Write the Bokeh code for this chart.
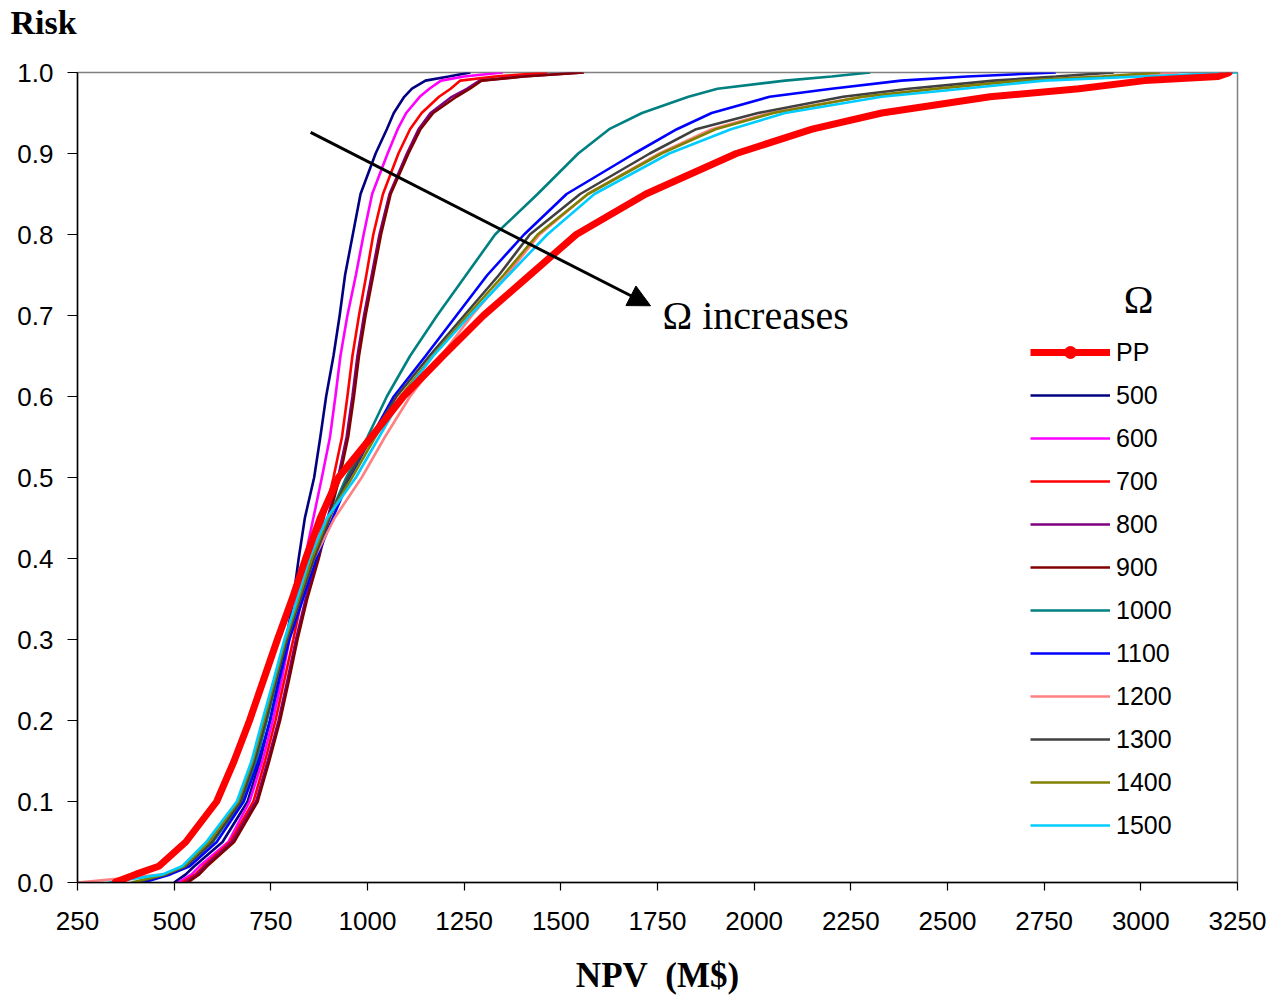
from bokeh.plotting import figure
from bokeh.models import (Legend, LegendItem, Label, Arrow, NormalHead, Range1d,
                          FixedTicker, PrintfTickFormatter, Title)
from bokeh.embed import file_html
from bokeh.resources import INLINE

# Cumulative risk levels (y) and the NPV (M$) read at each level for every series
risk = [0, 0.01, 0.02, 0.05, 0.1, 0.15, 0.2, 0.25, 0.3, 0.35, 0.4, 0.45, 0.5, 0.55,
        0.6, 0.65, 0.7, 0.75, 0.8, 0.85, 0.9, 0.93, 0.95, 0.97, 0.98, 0.99, 0.995, 1.0]

npv_pp = [345, 400, 460, 530, 610, 655, 695, 731, 767, 805, 840, 878, 925, 1010,
          1093, 1195, 1300, 1420, 1540, 1720, 1954, 2150, 2330, 2610, 2840, 3010, 3200, 3230]
npv_500 = [500, 530, 552, 625, 690, 722, 748, 770, 790, 808, 822, 838, 862, 878,
           893, 912, 928, 942, 962, 982, 1021, 1050, 1068, 1095, 1115, 1150, 1210, 1266]
npv_600 = [510, 545, 565, 640, 695, 728, 755, 778, 798, 815, 838, 860, 882, 903,
           917, 930, 948, 970, 990, 1012, 1052, 1078, 1100, 1135, 1160, 1190, 1250, 1350]
npv_700 = [520, 555, 575, 645, 705, 735, 762, 785, 808, 830, 860, 887, 912, 934,
           948, 961, 978, 997, 1015, 1040, 1080, 1110, 1140, 1185, 1215, 1240, 1330, 1465]
npv_800 = [530, 560, 580, 650, 712, 742, 770, 793, 815, 840, 870, 897, 924, 946,
           961, 974, 991, 1011, 1031, 1057, 1102, 1132, 1163, 1218, 1258, 1290, 1400, 1555]
npv_900 = [535, 565, 585, 655, 716, 746, 774, 797, 819, 844, 874, 900, 928, 950,
           965, 978, 995, 1015, 1035, 1060, 1106, 1137, 1170, 1230, 1265, 1295, 1405, 1560]
npv_1000 = [400, 480, 530, 600, 675, 712, 740, 765, 792, 825, 860, 900, 945, 1000,
            1050, 1110, 1180, 1255, 1330, 1440, 1545, 1625, 1710, 1830, 1905, 2080, 2200, 2300]
npv_1100 = [420, 490, 540, 610, 680, 718, 748, 772, 798, 833, 868, 910, 955, 1010,
            1068, 1150, 1230, 1310, 1405, 1515, 1690, 1800, 1890, 2040, 2200, 2380, 2550, 2780]
npv_1200 = [250, 475, 525, 590, 668, 705, 733, 762, 790, 825, 862, 915, 985, 1045,
            1110, 1190, 1270, 1360, 1445, 1570, 1755, 1890, 2040, 2280, 2470, 2680, 2900, 3100]
npv_1300 = [400, 480, 530, 598, 672, 708, 737, 764, 792, 826, 862, 902, 950, 1010,
            1075, 1160, 1250, 1340, 1420, 1550, 1730, 1850, 2010, 2230, 2400, 2620, 2780, 2930]
npv_1400 = [390, 475, 525, 590, 666, 703, 732, 760, 788, 822, 856, 898, 960, 1020,
            1085, 1168, 1258, 1352, 1440, 1570, 1760, 1900, 2050, 2280, 2470, 2690, 2900, 3050]
npv_1500 = [330, 470, 520, 583, 662, 700, 728, 757, 785, 818, 850, 895, 970, 1030,
            1090, 1170, 1265, 1365, 1465, 1587, 1780, 1940, 2080, 2330, 2540, 2750, 3000, 3250]

series_names = ["500", "600", "700", "800", "900", "1000", "1100", "1200", "1300", "1400", "1500"]
series_values = [npv_500, npv_600, npv_700, npv_800, npv_900, npv_1000, npv_1100,
                 npv_1200, npv_1300, npv_1400, npv_1500]
series_colors = ["#000080", "#FF00FF", "#FF0000", "#800080", "#800000", "#008080",
                 "#0000FF", "#FF8080", "#404040", "#808000", "#00CCFF"]

x_ticks = [250, 500, 750, 1000, 1250, 1500, 1750, 2000, 2250, 2500, 2750, 3000, 3250]
y_ticks = [0.0, 0.1, 0.2, 0.3, 0.4, 0.5, 0.6, 0.7, 0.8, 0.9, 1.0]

p = figure(frame_width=1160, frame_height=810, output_backend="svg", toolbar_location=None,
           x_range=Range1d(250, 3250), y_range=Range1d(0, 1.0), title=None,
           min_border_left=77, min_border_right=31, min_border_top=72, min_border_bottom=100)
p.background_fill_color = "white"
p.border_fill_color = "white"
p.outline_line_color = "#808080"
p.outline_line_width = 1.5
p.xgrid.visible = False
p.ygrid.visible = False

# spacer title next to the frame, then the "Risk" heading above it
p.add_layout(Title(text=" ", text_font_size="20px", standoff=6), "above")
p.add_layout(Title(text="Risk", align="left", vertical_align="top", offset=-67, standoff=0,
                   text_font="Liberation Serif", text_font_style="bold",
                   text_font_size="34px", text_color="black"), "above")

TICK_FONT = "Liberation Sans"
for ax in (p.xaxis[0], p.yaxis[0]):
    ax.axis_line_color = "black"
    ax.axis_line_width = 1.5
    ax.major_tick_line_color = "black"
    ax.major_tick_line_width = 1.2
    ax.major_tick_in = 0
    ax.minor_tick_line_color = None
    ax.major_label_text_font = TICK_FONT
    ax.major_label_text_font_size = "26px"
    ax.major_label_text_color = "black"

p.xaxis.ticker = FixedTicker(ticks=x_ticks)
p.xaxis.major_tick_out = 8
p.xaxis.major_label_standoff = 21
p.xaxis.axis_label = "NPV\u00a0\u00a0(M$)"
p.xaxis.axis_label_text_font = "Liberation Serif"
p.xaxis.axis_label_text_font_style = "bold"
p.xaxis.axis_label_text_font_size = "35px"
p.xaxis.axis_label_text_color = "black"
p.xaxis.axis_label_standoff = 23

p.yaxis.ticker = FixedTicker(ticks=y_ticks)
p.yaxis.formatter = PrintfTickFormatter(format="%.1f")
p.yaxis.major_tick_out = 10
p.yaxis.major_label_standoff = 14

items = []
renderers = {}
for name, vals, col in zip(series_names, series_values, series_colors):
    r = p.line(vals, risk, line_color=col, line_width=2.6)
    renderers[name] = r

pp_line = p.line(npv_pp, risk, line_color="#FF0000", line_width=7)
pp_dots = p.scatter(npv_pp, risk, size=5, marker="circle", fill_color="#FF0000",
                    line_color="#FF0000")

items.append(LegendItem(label="PP", renderers=[pp_line, pp_dots]))
for name in series_names:
    items.append(LegendItem(label=name, renderers=[renderers[name]]))

legend = Legend(items=items, location=(943, 32), glyph_width=80, glyph_height=30,
                label_height=30, spacing=13, padding=10, label_standoff=6,
                border_line_alpha=0, background_fill_alpha=0,
                label_text_font=TICK_FONT, label_text_font_size="25px",
                label_text_color="black")
p.add_layout(legend)

p.add_layout(Label(x=2994, y=0.72, text="Ω", text_align="center",
                   text_baseline="alphabetic", text_font="Liberation Serif",
                   text_font_size="40px", text_color="black"))
p.add_layout(Label(x=1763, y=0.70, text="Ω increases", text_align="left",
                   text_baseline="alphabetic", text_font="Liberation Serif",
                   text_font_size="40px", text_color="black"))

p.add_layout(Arrow(x_start=853, y_start=0.926, x_end=1732, y_end=0.712,
                   line_width=3, line_color="black",
                   end=NormalHead(size=22, fill_color="black", line_color="black")))

open("out.html", "w").write(file_html(p, INLINE))
